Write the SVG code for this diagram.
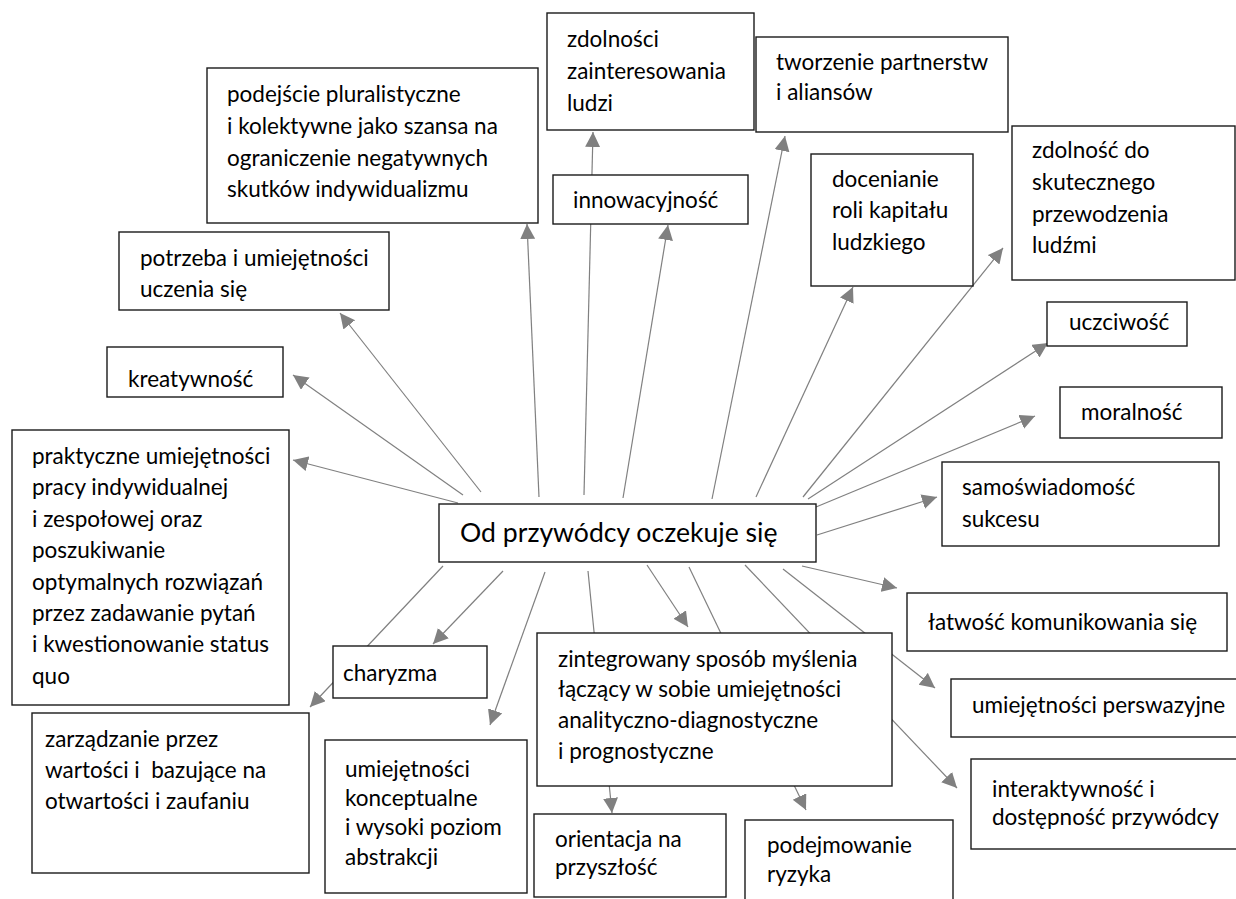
<svg xmlns="http://www.w3.org/2000/svg" width="1236" height="899" viewBox="0 0 1236 899">
  <style>
    .box { fill: #ffffff; stroke: #1a1a1a; stroke-width: 1.4; }
    .lbl { font-family: Lato, "Liberation Sans", sans-serif; font-size: 22.5px; fill: #000000; }
    .main { font-family: Lato, "Liberation Sans", sans-serif; font-size: 26.6px; fill: #000000; }
    .link { stroke: #808080; stroke-width: 1.2; fill: none; marker-end: url(#arrow); }
  </style>
  <defs>
    <marker id="arrow" markerUnits="userSpaceOnUse" markerWidth="16" markerHeight="16" refX="15" refY="7.5" orient="auto">
      <path d="M0,0 L15,7.5 L0,15 z" fill="#808080"/>
    </marker>
  </defs>

  <rect width="1236" height="899" fill="#ffffff"/>

  <!-- connectors from the central box; drawn first so boxes cover lines passing beneath them -->
  <g id="connectors">
    <line class="link" x1="539" y1="497" x2="527" y2="224"/>
    <line class="link" x1="584" y1="495" x2="593" y2="132"/>
    <line class="link" x1="623" y1="498" x2="668" y2="225"/>
    <line class="link" x1="712" y1="499" x2="785" y2="136"/>
    <line class="link" x1="756" y1="497" x2="853" y2="287"/>
    <line class="link" x1="803" y1="497" x2="1003" y2="248"/>
    <line class="link" x1="808" y1="499" x2="1048" y2="343"/>
    <line class="link" x1="816" y1="507" x2="1035" y2="416"/>
    <line class="link" x1="817" y1="535" x2="937" y2="497"/>
    <line class="link" x1="802" y1="566" x2="897" y2="588"/>
    <line class="link" x1="783" y1="569" x2="935" y2="688"/>
    <line class="link" x1="745" y1="565" x2="957" y2="788"/>
    <line class="link" x1="689" y1="567" x2="806" y2="810"/>
    <line class="link" x1="647" y1="565" x2="688" y2="627"/>
    <line class="link" x1="588" y1="571" x2="612" y2="813"/>
    <line class="link" x1="545" y1="572" x2="490" y2="725"/>
    <line class="link" x1="503" y1="571" x2="433" y2="644"/>
    <line class="link" x1="443" y1="566" x2="310" y2="707"/>
    <line class="link" x1="458" y1="503" x2="293" y2="460"/>
    <line class="link" x1="463" y1="495" x2="293" y2="375"/>
    <line class="link" x1="481" y1="492" x2="340" y2="313"/>
  </g>

  <g id="n-center">
    <rect class="box" x="439" y="504" width="377" height="58"/>
    <text class="main" x="460" y="542">Od przywódcy oczekuje się</text>
  </g>

  <g id="n-pluralizm">
    <rect class="box" x="207" y="68" width="331" height="155"/>
    <text class="lbl" x="227" y="102">podejście pluralistyczne</text>
    <text class="lbl" x="227" y="134">i kolektywne jako szansa na</text>
    <text class="lbl" x="227" y="166">ograniczenie negatywnych</text>
    <text class="lbl" x="227" y="197">skutków indywidualizmu</text>
  </g>

  <g id="n-uczenie">
    <rect class="box" x="119" y="232" width="270" height="78"/>
    <text class="lbl" x="140" y="266">potrzeba i umiejętności</text>
    <text class="lbl" x="140" y="297">uczenia się</text>
  </g>

  <g id="n-kreatywnosc">
    <rect class="box" x="107" y="347" width="176" height="50"/>
    <text class="lbl" x="128" y="387">kreatywność</text>
  </g>

  <g id="n-praktyczne">
    <rect class="box" x="12" y="430" width="277" height="275"/>
    <text class="lbl" x="32" y="464">praktyczne umiejętności</text>
    <text class="lbl" x="32" y="495">pracy indywidualnej</text>
    <text class="lbl" x="32" y="527">i zespołowej oraz</text>
    <text class="lbl" x="32" y="558">poszukiwanie</text>
    <text class="lbl" x="32" y="590">optymalnych rozwiązań</text>
    <text class="lbl" x="32" y="621">przez zadawanie pytań</text>
    <text class="lbl" x="32" y="652">i kwestionowanie status</text>
    <text class="lbl" x="32" y="684">quo</text>
  </g>

  <g id="n-zarzadzanie">
    <rect class="box" x="32" y="713" width="277" height="160"/>
    <text class="lbl" x="45" y="747">zarządzanie przez</text>
    <text class="lbl" x="45" y="778" xml:space="preserve">wartości i  bazujące na</text>
    <text class="lbl" x="45" y="809">otwartości i zaufaniu</text>
  </g>

  <g id="n-charyzma">
    <rect class="box" x="333" y="646" width="154" height="52"/>
    <text class="lbl" x="343" y="681">charyzma</text>
  </g>

  <g id="n-konceptualne">
    <rect class="box" x="325" y="740" width="202" height="153"/>
    <text class="lbl" x="345" y="777">umiejętności</text>
    <text class="lbl" x="345" y="806">konceptualne</text>
    <text class="lbl" x="345" y="835">i wysoki poziom</text>
    <text class="lbl" x="345" y="865">abstrakcji</text>
  </g>

  <g id="n-zintegrowany">
    <rect class="box" x="537" y="633" width="355" height="153"/>
    <text class="lbl" x="558" y="667">zintegrowany sposób myślenia</text>
    <text class="lbl" x="558" y="697">łączący w sobie umiejętności</text>
    <text class="lbl" x="558" y="728">analityczno-diagnostyczne</text>
    <text class="lbl" x="558" y="759">i prognostyczne</text>
  </g>

  <g id="n-orientacja">
    <rect class="box" x="534" y="814" width="192" height="83"/>
    <text class="lbl" x="555" y="847">orientacja na</text>
    <text class="lbl" x="555" y="875">przyszłość</text>
  </g>

  <g id="n-ryzyko">
    <rect class="box" x="745" y="820" width="208" height="90"/>
    <text class="lbl" x="767" y="853">podejmowanie</text>
    <text class="lbl" x="767" y="882">ryzyka</text>
  </g>

  <g id="n-komunikowanie">
    <rect class="box" x="907" y="593" width="320" height="58"/>
    <text class="lbl" x="928" y="630">łatwość komunikowania się</text>
  </g>

  <g id="n-perswazja">
    <rect class="box" x="951" y="679" width="295" height="58"/>
    <text class="lbl" x="972" y="713">umiejętności perswazyjne</text>
  </g>

  <g id="n-interaktywnosc">
    <rect class="box" x="971" y="759" width="275" height="90"/>
    <text class="lbl" x="992" y="797">interaktywność i</text>
    <text class="lbl" x="992" y="825">dostępność przywódcy</text>
  </g>

  <g id="n-samoswiadomosc">
    <rect class="box" x="942" y="462" width="277" height="84"/>
    <text class="lbl" x="962" y="495">samoświadomość</text>
    <text class="lbl" x="962" y="527">sukcesu</text>
  </g>

  <g id="n-moralnosc">
    <rect class="box" x="1060" y="387" width="162" height="51"/>
    <text class="lbl" x="1081" y="420">moralność</text>
  </g>

  <g id="n-uczciwosc">
    <rect class="box" x="1047" y="302" width="140" height="44"/>
    <text class="lbl" x="1069" y="330">uczciwość</text>
  </g>

  <g id="n-przewodzenie">
    <rect class="box" x="1012" y="126" width="223" height="154"/>
    <text class="lbl" x="1032" y="158">zdolność do</text>
    <text class="lbl" x="1032" y="190">skutecznego</text>
    <text class="lbl" x="1032" y="222">przewodzenia</text>
    <text class="lbl" x="1032" y="253">ludźmi</text>
  </g>

  <g id="n-kapital">
    <rect class="box" x="811" y="154" width="162" height="132"/>
    <text class="lbl" x="832" y="187">docenianie</text>
    <text class="lbl" x="832" y="218">roli kapitału</text>
    <text class="lbl" x="832" y="250">ludzkiego</text>
  </g>

  <g id="n-partnerstwa">
    <rect class="box" x="756" y="37" width="252" height="95"/>
    <text class="lbl" x="776" y="70">tworzenie partnerstw</text>
    <text class="lbl" x="776" y="100">i aliansów</text>
  </g>

  <g id="n-zainteresowanie">
    <rect class="box" x="547" y="13" width="207" height="117"/>
    <text class="lbl" x="567" y="47">zdolności</text>
    <text class="lbl" x="567" y="79">zainteresowania</text>
    <text class="lbl" x="567" y="111">ludzi</text>
  </g>

  <g id="n-innowacyjnosc">
    <rect class="box" x="553" y="175" width="195" height="49"/>
    <text class="lbl" x="573" y="208">innowacyjność</text>
  </g>
</svg>
